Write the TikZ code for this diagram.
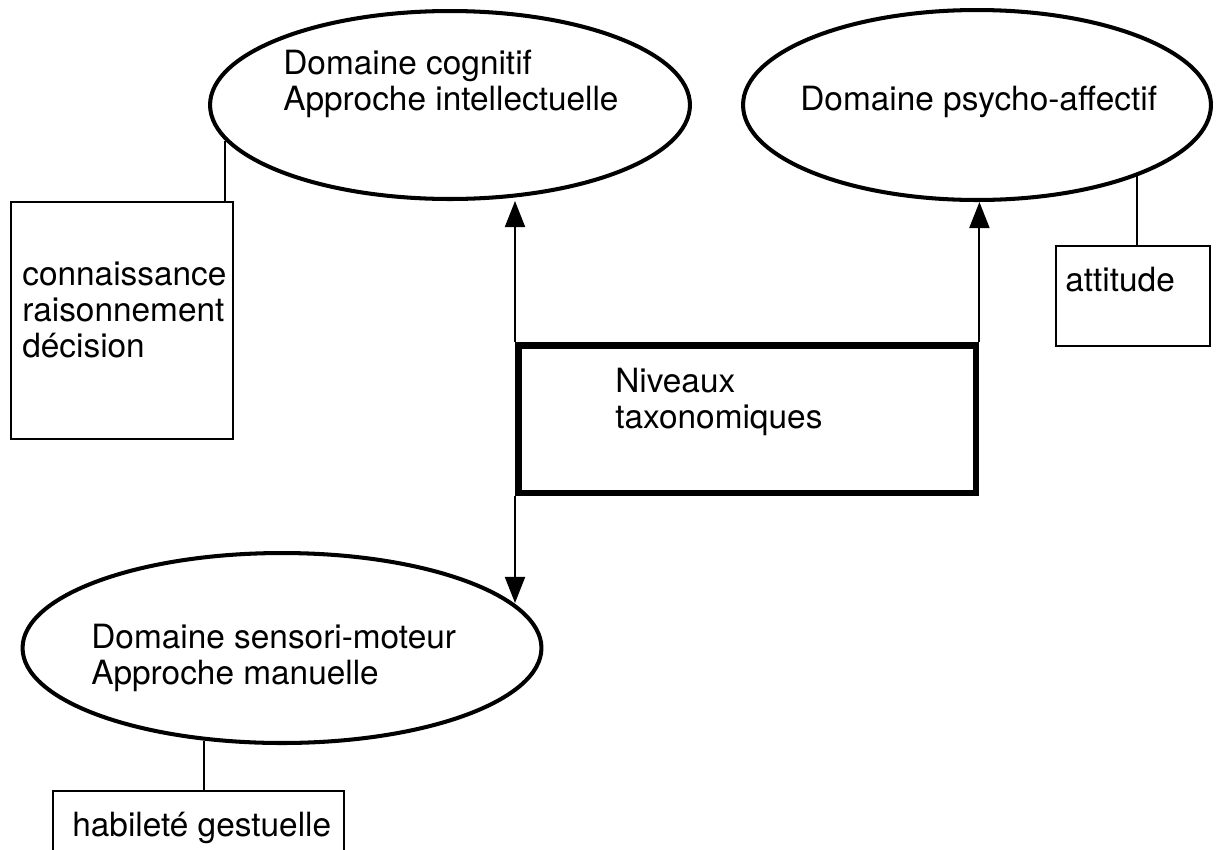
\documentclass[tikz,border=0pt]{standalone}
\usepackage{fontspec}
\setmainfont{TeX Gyre Heros}
\usetikzlibrary{shapes.geometric,arrows.meta}

\tikzset{
  domaine/.style={draw, ellipse, line width=2.3pt, inner sep=0pt},
  cadre/.style={draw, rectangle, line width=1.1pt, inner sep=0pt, anchor=north west},
  texte/.style={inner sep=0pt, anchor=north west, align=left,
    font=\fontsize{19}{20.5}\selectfont},
  trait/.style={line width=1.1pt},
  fleche/.style={line width=1.1pt, -{Triangle[length=0.52cm,width=0.4cm]}}
}

\begin{document}
\begin{tikzpicture}[x=0.02cm, y=-0.02cm]
\useasboundingbox (0,0) rectangle (1219,849);

\node[domaine, minimum width=9.6cm, minimum height=3.76cm] (cogn) at (450,105) {};
\node[domaine, minimum width=9.36cm, minimum height=3.8cm] (psy) at (977,105) {};
\node[domaine, minimum width=10.38cm, minimum height=3.8cm] (sens) at (282,648) {};

\node[cadre, minimum width=4.44cm, minimum height=4.74cm] (savoir) at (10,201) {};
\node[cadre, minimum width=3.08cm, minimum height=2cm] (attitude) at (1055,245) {};
\node[cadre, minimum width=5.82cm, minimum height=1.6cm] (geste) at (52,790) {};
\node[cadre, line width=3.7pt, minimum width=9.16cm, minimum height=2.96cm] (taxo) at (515,342) {};

\node[texte] (t-cogn) at (283,50) {Domaine cognitif\\Approche intellectuelle};
\node[texte] (t-psy) at (800,86) {Domaine psycho-affectif};
\node[texte] (t-sens) at (91,624) {Domaine sensori-moteur\\Approche manuelle};
\node[texte] (t-savoir) at (22,262) {connaissance\\raisonnement\\décision};
\node[texte] (t-attitude) at (1065,267) {attitude};
\node[texte] (t-geste) at (72,812) {habileté gestuelle};
\node[texte] (t-taxo) at (615,368) {Niveaux\\taxonomiques};

\draw[trait] (cogn.189) -- (cogn.189 |- savoir.north);
\draw[trait] (psy.336) -- (psy.336 |- attitude.north);
\draw[trait] (sens.230) -- (sens.230 |- geste.north);

\draw[fleche] (taxo.north west) -- (taxo.north west |- cogn.south);
\draw[fleche] (taxo.north east) -- (taxo.north east |- psy.south);
\draw[fleche] (taxo.south west) -- (taxo.south west |- sens.11);
\end{tikzpicture}
\end{document}
